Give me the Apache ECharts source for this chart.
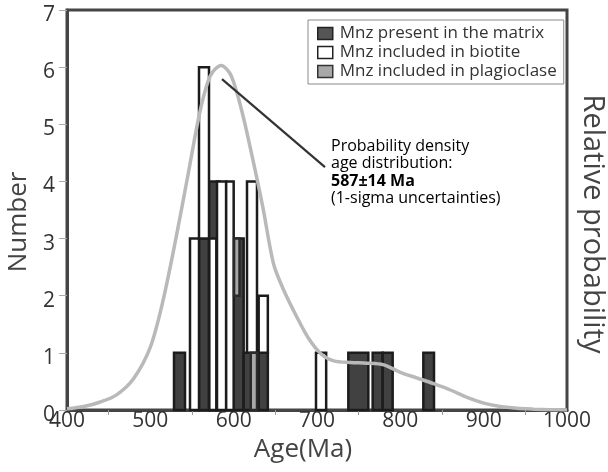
<!DOCTYPE html>
<html>
<head>
<meta charset="utf-8">
<script src="https://cdn.jsdelivr.net/npm/echarts@6/dist/echarts.min.js"></script>
<style>
html,body{margin:0;padding:0;background:#fff;}
#chart{width:608px;height:472px;}
</style>
</head>
<body>
<div id="chart"></div>
<script>
// ---- data ----
const xTickLabels = [400, 500, 600, 700, 800, 900, 1000];
const yTickLabels = [0, 1, 2, 3, 4, 5, 6, 7];

// bars: [startAge, endAge, bottomCount, topCount]
const matrixBars = [
  [528.4, 541.6, 0, 1],
  [558.4, 570.4, 0, 3],
  [570.4, 583.6, 0, 4],
  [598.8, 612.0, 0, 3],
  [612.0, 630.0, 0, 1],
  [630.0, 641.0, 0, 1],
  [737.6, 761.6, 0, 1],
  [766.8, 778.8, 0, 1],
  [778.8, 790.8, 0, 1],
  [827.6, 840.4, 0, 1]
];
const biotiteBars = [
  [547.6, 558.4, 0, 3],
  [558.4, 570.4, 3, 6],
  [570.8, 579.2, 0, 3],
  [580.0, 591.0, 0, 4],
  [591.0, 600.0, 0, 4],
  [616.0, 628.0, 1, 4],
  [630.0, 641.0, 1, 2],
  [698.8, 711.0, 0, 1]
];
const plagBars = [
  [600.5, 607.0, 2, 3],
  [620.5, 628.0, 0, 1]
];

const curveAges = [400, 420, 440, 460, 480, 500, 515, 530, 545, 560, 572, 585, 597, 610, 622, 635, 648, 660, 675, 690, 705, 720, 740, 760, 780, 800, 820, 840, 860, 880, 900, 920, 940, 960, 980, 1000];
const curveProb = [0.02, 0.06, 0.14, 0.27, 0.55, 1.1, 1.9, 2.95, 4.1, 5.25, 5.85, 6.03, 5.85, 5.22, 4.45, 3.55, 2.55, 2.1, 1.65, 1.25, 0.98, 0.86, 0.83, 0.82, 0.79, 0.66, 0.56, 0.46, 0.35, 0.22, 0.12, 0.06, 0.03, 0.015, 0.005, 0];

const pointerLine = [[586, 5.79], [709.6, 4.25]];

const seriesNames = ['Mnz present in the matrix', 'Mnz included in biotite', 'Mnz included in plagioclase'];
const annotationLines = ['Probability density', 'age distribution:', '587±14 Ma', '(1-sigma uncertainties)'];

// ---- styles ----
const FONT = 'Open Sans';
const styles = {
  matrix: {fill: '#414141', stroke: '#1c1c1c', lw: 2.5},
  biotite: {fill: '#ffffff', stroke: '#1c1c1c', lw: 2.5},
  plag: {fill: '#a8a8a8', stroke: '#2a2a2a', lw: 2.5}
};

function rectRenderer(st) {
  return function (params, api) {
    const x0 = api.value(0), x1 = api.value(1), b = api.value(2), t = api.value(3);
    const p0 = api.coord([x0, t]);
    const p1 = api.coord([x1, b]);
    return {
      type: 'rect',
      shape: {x: p0[0], y: p0[1], width: p1[0] - p0[0], height: p1[1] - p0[1]},
      style: {fill: st.fill, stroke: st.stroke, lineWidth: st.lw}
    };
  };
}

function barSeries(name, data, st, z) {
  return {
    type: 'custom',
    name: name,
    z: z,
    renderItem: rectRenderer(st),
    encode: {x: [0, 1], y: [2, 3]},
    itemStyle: {color: st.fill, borderColor: st.stroke, borderWidth: 1.5},
    data: data
  };
}

const chart = echarts.init(document.getElementById('chart'), null, {renderer: 'canvas'});

const option = {
  backgroundColor: '#ffffff',
  animation: false,
  grid: {left: 67, right: 41, top: 10, bottom: 62, outerBoundsMode: 'none', containLabel: false, show: true, borderColor: '#454545', borderWidth: 3, backgroundColor: '#fff'},
  legend: {
    orient: 'vertical',
    left: 308,
    top: 20,
    itemWidth: 15,
    itemHeight: 12,
    itemGap: 2,
    icon: 'rect',
    borderColor: '#8a8a8a',
    borderWidth: 1,
    padding: [5, 7, 4, 9],
    textStyle: {fontFamily: FONT, fontSize: 17, color: '#333', padding: [0, 0, 0, 2]},
    data: [
      {name: seriesNames[0], itemStyle: {color: '#555555', borderColor: '#222', borderWidth: 1.5}},
      {name: seriesNames[1], itemStyle: {color: '#ffffff', borderColor: '#222', borderWidth: 1.5}},
      {name: seriesNames[2], itemStyle: {color: '#a8a8a8', borderColor: '#333', borderWidth: 1.5}}
    ]
  },
  xAxis: {
    type: 'value',
    min: xTickLabels[0],
    max: xTickLabels[xTickLabels.length - 1],
    interval: 100,
    name: 'Age(Ma)',
    nameLocation: 'middle',
    nameGap: 22,
    nameTextStyle: {fontFamily: FONT, fontSize: 26, color: '#444', padding: [0, 28, 0, 0]},
    axisLine: {show: true, lineStyle: {color: '#454545', width: 3}},
    axisTick: {show: false},
    minorTick: {show: true, splitNumber: 2, length: 5, lineStyle: {color: '#999', width: 1}},
    axisLabel: {fontFamily: FONT, fontSize: 21, color: '#333', margin: 1, formatter: v => String(v)},
    splitLine: {show: false},
    minorSplitLine: {show: false}
  },
  yAxis: [
    {
      type: 'value',
      min: yTickLabels[0],
      max: yTickLabels[yTickLabels.length - 1],
      interval: 1,
      name: 'Number',
      nameLocation: 'middle',
      nameRotate: 90,
      nameGap: 33,
      nameTextStyle: {fontFamily: FONT, fontSize: 26, color: '#444', padding: [0, 24, 0, 0]},
      axisLine: {show: true, lineStyle: {color: '#454545', width: 3}},
      axisTick: {show: true, length: 8, lineStyle: {color: '#aaa', width: 1}},
      axisLabel: {
        fontFamily: FONT, fontSize: 21, color: '#333', margin: 12,
        formatter: v => '{s|}\n{a|' + v + '}',
        rich: {s: {lineHeight: 10, fontSize: 10}, a: {fontFamily: FONT, fontSize: 21, color: '#333', lineHeight: 22}}
      },
      splitLine: {show: false}
    },
    {
      type: 'value',
      position: 'right',
      min: yTickLabels[0],
      max: yTickLabels[yTickLabels.length - 1],
      interval: 1,
      name: 'Relative probability',
      nameLocation: 'middle',
      nameRotate: -90,
      nameGap: 11,
      nameTextStyle: {fontFamily: FONT, fontSize: 29, color: '#444', padding: [0, 0, 0, 28]},
      axisLine: {show: false},
      axisTick: {show: false},
      axisLabel: {show: false},
      splitLine: {show: false}
    }
  ],
  series: [
    barSeries(seriesNames[0], matrixBars, styles.matrix, 2),
    barSeries(seriesNames[1], biotiteBars, styles.biotite, 3),
    barSeries(seriesNames[2], plagBars, styles.plag, 4),
    {
      type: 'line',
      name: 'curve',
      z: 5,
      smooth: 0.3,
      showSymbol: false,
      symbol: 'none',
      lineStyle: {color: '#b9b9b9', width: 3.5},
      data: curveAges.map((a, i) => [a, curveProb[i]])
    },
    {
      type: 'line',
      name: 'pointer',
      z: 6,
      showSymbol: false,
      symbol: 'none',
      lineStyle: {color: '#333', width: 2.2},
      data: pointerLine
    }
  ],
  graphic: [
    {
      type: 'text',
      left: 331,
      top: 138,
      z: 10,
      style: {
        text: '{n|' + annotationLines[0] + '}\n{n|' + annotationLines[1] + '}\n{b|' + annotationLines[2] + '}\n{n|' + annotationLines[3] + '}',
        rich: {
          n: {fontFamily: FONT, fontSize: 16, color: '#444', lineHeight: 17.5},
          b: {fontFamily: FONT, fontSize: 16, fontWeight: 'bold', color: '#444', lineHeight: 17.5}
        }
      }
    }
  ]
};
chart.setOption(option);
</script>
</body>
</html>
